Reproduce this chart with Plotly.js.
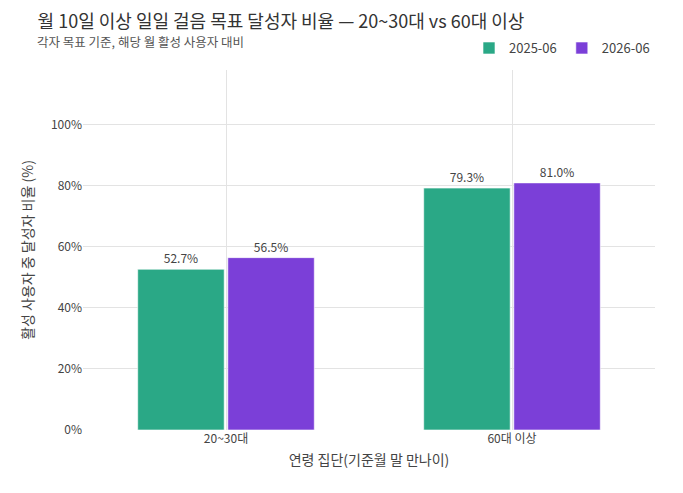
<!DOCTYPE html>
<html><head><meta charset="utf-8">
<script src="https://cdn.plot.ly/plotly-3.0.1.min.js"></script>
<style>html,body{margin:0;padding:0;background:#fff}#c{width:683px;height:493px}</style>
</head><body><div id="c"></div>
<script>
const categories = ["20~30대", "60대 이상"];
const series2025 = [52.7, 79.3];
const series2026 = [56.5, 81.0];
const seriesNames = ["2025-06", "2026-06"];
const yTickVals = [0, 20, 40, 60, 80, 100];
const yTickText = ["0%", "20%", "40%", "60%", "80%", "100%"];
const titleText = "월 10일 이상 일일 걸음 목표 달성자 비율 — 20~30대 vs 60대 이상";
const subtitleText = "각자 목표 기준, 해당 월 활성 사용자 대비";

const F = "'Noto Sans CJK KR', 'Noto Sans', sans-serif";
function bar(name, vals, color) {
  return {
    type: "bar", name: name, x: categories, y: vals,
    marker: {color: color, line: {color: "rgba(255,255,255,0.6)", width: 1}},
    text: vals.map(v => v.toFixed(1) + "%"), textposition: "outside",
    textfont: {family: F, size: 12, color: "#444"}, cliponaxis: false
  };
}
const data = [bar(seriesNames[0], series2025, "#2aa886"), bar(seriesNames[1], series2026, "#7b3fd8")];
const layout = {
  width: 683, height: 493,
  margin: {l: 83, r: 28, t: 70, b: 63},
  paper_bgcolor: "#fff", plot_bgcolor: "#fff",
  font: {family: F, color: "#444"},
  title: {text: titleText, x: 0.055, xanchor: "left", y: 1 - 22/493, yanchor: "middle",
          font: {family: F, size: 18, color: "#333"}},
  annotations: [{text: subtitleText, xref: "paper", yref: "paper", x: -0.084, y: 1.08,
                 xanchor: "left", yanchor: "middle", showarrow: false,
                 font: {family: F, size: 12.5, color: "#555"}}],
  barmode: "group", bargap: 0.37, bargroupgap: 0.04,
  xaxis: {title: {text: "연령 집단(기준월 말 만나이)", font: {size: 14, color: "#444"}, standoff: 10},
          showgrid: true, gridcolor: "#e3e3e3", tickfont: {size: 12, color: "#444"}, zeroline: false},
  yaxis: {title: {text: "활성 사용자 중 달성자 비율 (%)", font: {size: 14, color: "#444"}, standoff: 14},
          range: [0, 118], tickvals: yTickVals, ticktext: yTickText, gridcolor: "#e3e3e3",
          tickfont: {size: 12, color: "#444"}, zeroline: false},
  legend: {orientation: "h", x: 1, xanchor: "right", y: 1.061, yanchor: "middle",
           font: {size: 13, color: "#444"}},
  showlegend: true
};
Plotly.newPlot("c", data, layout, {displayModeBar: false});
</script></body></html>
